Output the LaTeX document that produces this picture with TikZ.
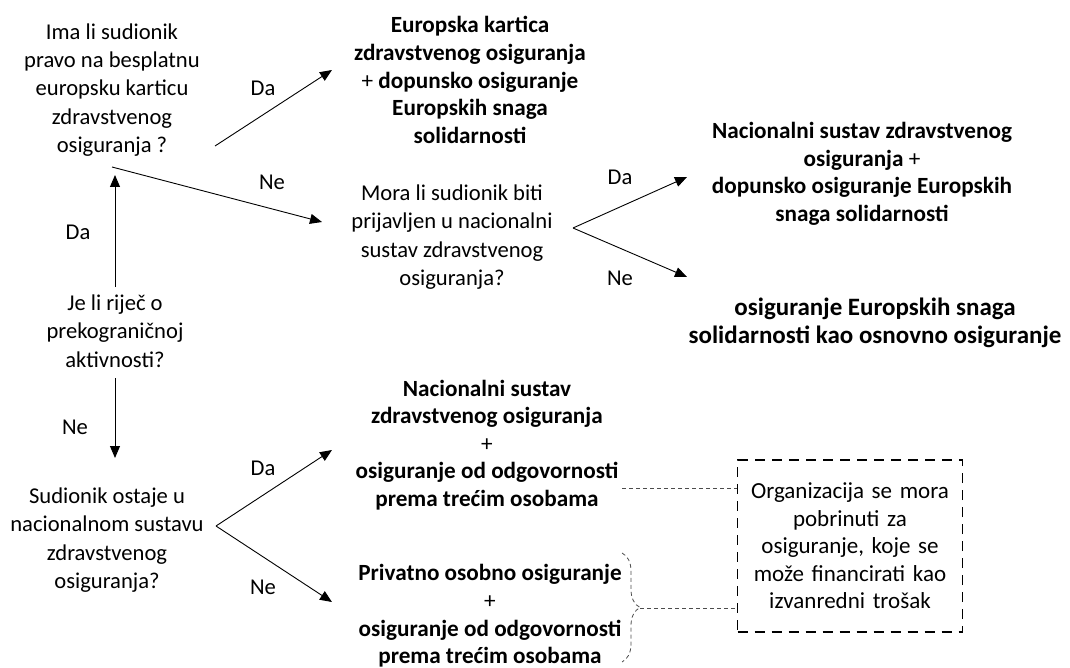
\documentclass[tikz,border=0pt]{standalone}
\usepackage{fontspec}
\setmainfont{Carlito}
\usepackage{tikz}
\usetikzlibrary{arrows.meta,decorations.pathreplacing}
\tikzstyle{question} = [inner sep=0pt, align=center, font=\fontsize{22.6}{28.4}\selectfont]
\tikzstyle{answer} = [inner sep=0pt, align=center, font=\fontsize{23.2}{27.6}\selectfont\bfseries]
\tikzstyle{choice} = [inner sep=0pt, font=\fontsize{22.6}{28}\selectfont]
\tikzstyle{arrow} = [line width=0.9pt, -{Triangle[length=12pt,width=10pt]}]
\tikzstyle{link} = [line width=0.8pt, black!70, dash pattern=on 4pt off 3pt]
\tikzstyle{notebox} = [draw, line width=1.6pt, dash pattern=on 10pt off 7pt, minimum width=225pt, minimum height=172pt, text width=220pt, align=center, inner sep=0pt, font=\fontsize{23}{27.5}\selectfont]

\begin{document}
\begin{tikzpicture}[x=1pt, y=-1pt]
\useasboundingbox (0,0) rectangle (1070,668);

% Questions
\node[question] (q1) at (112,90) {Ima li sudionik\\pravo na besplatnu\\europsku karticu\\zdravstvenog\\osiguranja ?};
\node[question] (q2) at (452,237) {Mora li sudionik biti\\prijavljen u nacionalni\\sustav zdravstvenog\\osiguranja?};
\node[question] (q3) at (115,331) {Je li riječ o\\prekograničnoj\\aktivnosti?};
\node[question] (q4) at (107,540) {Sudionik ostaje u\\nacionalnom sustavu\\zdravstvenog\\osiguranja?};

% Outcomes
\node[answer] (r1) at (470,80) {Europska kartica\\zdravstvenog osiguranja\\\textmd{+} dopunsko osiguranje\\Europskih snaga\\solidarnosti};
\node[answer] (r2) at (862,174) {Nacionalni sustav zdravstvenog\\osiguranja \textmd{+}\\dopunsko osiguranje Europskih\\snaga solidarnosti};
\node[answer, font=\fontsize{25}{27.5}\selectfont\bfseries] (r3) at (875,323) {osiguranje Europskih snaga\\solidarnosti kao osnovno osiguranje};
\node[answer] (r4) at (487,445) {Nacionalni sustav\\zdravstvenog osiguranja\\\textmd{+}\\osiguranje od odgovornosti\\prema trećim osobama};
\node[answer] (r5) at (490,616) {Privatno osobno osiguranje\\\textmd{+}\\osiguranje od odgovornosti\\prema trećim osobama};

% Note
\node[notebox] (note) at (850,546) {Organizacija se mora\\pobrinuti za\\osiguranje, koje se\\može financirati kao\\izvanredni trošak};

% Arrows
\draw[arrow] ([shift={(103,56)}]q1.center) -- ([shift={(-138,-10)}]r1.center);
\draw[arrow] ([shift={(0,77)}]q1.center) -- ([shift={(-130,-15)}]q2.center);
\draw[arrow] ([shift={(121,-9)}]q2.center) -- ([shift={(-175,3)}]r2.center);
\draw[arrow] ([shift={(121,-9)}]q2.center) -- ([shift={(-188,-46)}]r3.center);
\draw[arrow] ([shift={(0,-44)}]q3.center) -- ([shift={(3,85)}]q1.center);
\draw[arrow] ([shift={(0,47)}]q3.center) -- ([shift={(8,-82)}]q4.center);
\draw[arrow] ([shift={(109,-14)}]q4.center) -- ([shift={(-155,5)}]r4.center);
\draw[arrow] ([shift={(109,-14)}]q4.center) -- ([shift={(-158,-14)}]r5.center);

% Da / Ne
\node[choice] (c1) at (263,88) {Da};
\node[choice] (c2) at (272,182) {Ne};
\node[choice] (c3) at (620,177) {Da};
\node[choice] (c4) at (620,278) {Ne};
\node[choice] (c5) at (78,232) {Da};
\node[choice] (c6) at (75,427) {Ne};
\node[choice] (c7) at (263,468) {Da};
\node[choice] (c8) at (263,587) {Ne};

% Dashed links to the note
\coordinate (l1) at ([shift={(135,43)}]r4.center);
\draw[link] (l1) -- (l1 -| note.west);
\draw[link, decorate, decoration={brace, amplitude=18pt}] ([shift={(132,-63)}]r5.center) -- ([shift={(132,46)}]r5.center);
\coordinate (l2) at ([shift={(150,-8)}]r5.center);
\draw[link] (l2) -- (l2 -| note.west);
\end{tikzpicture}
\end{document}
